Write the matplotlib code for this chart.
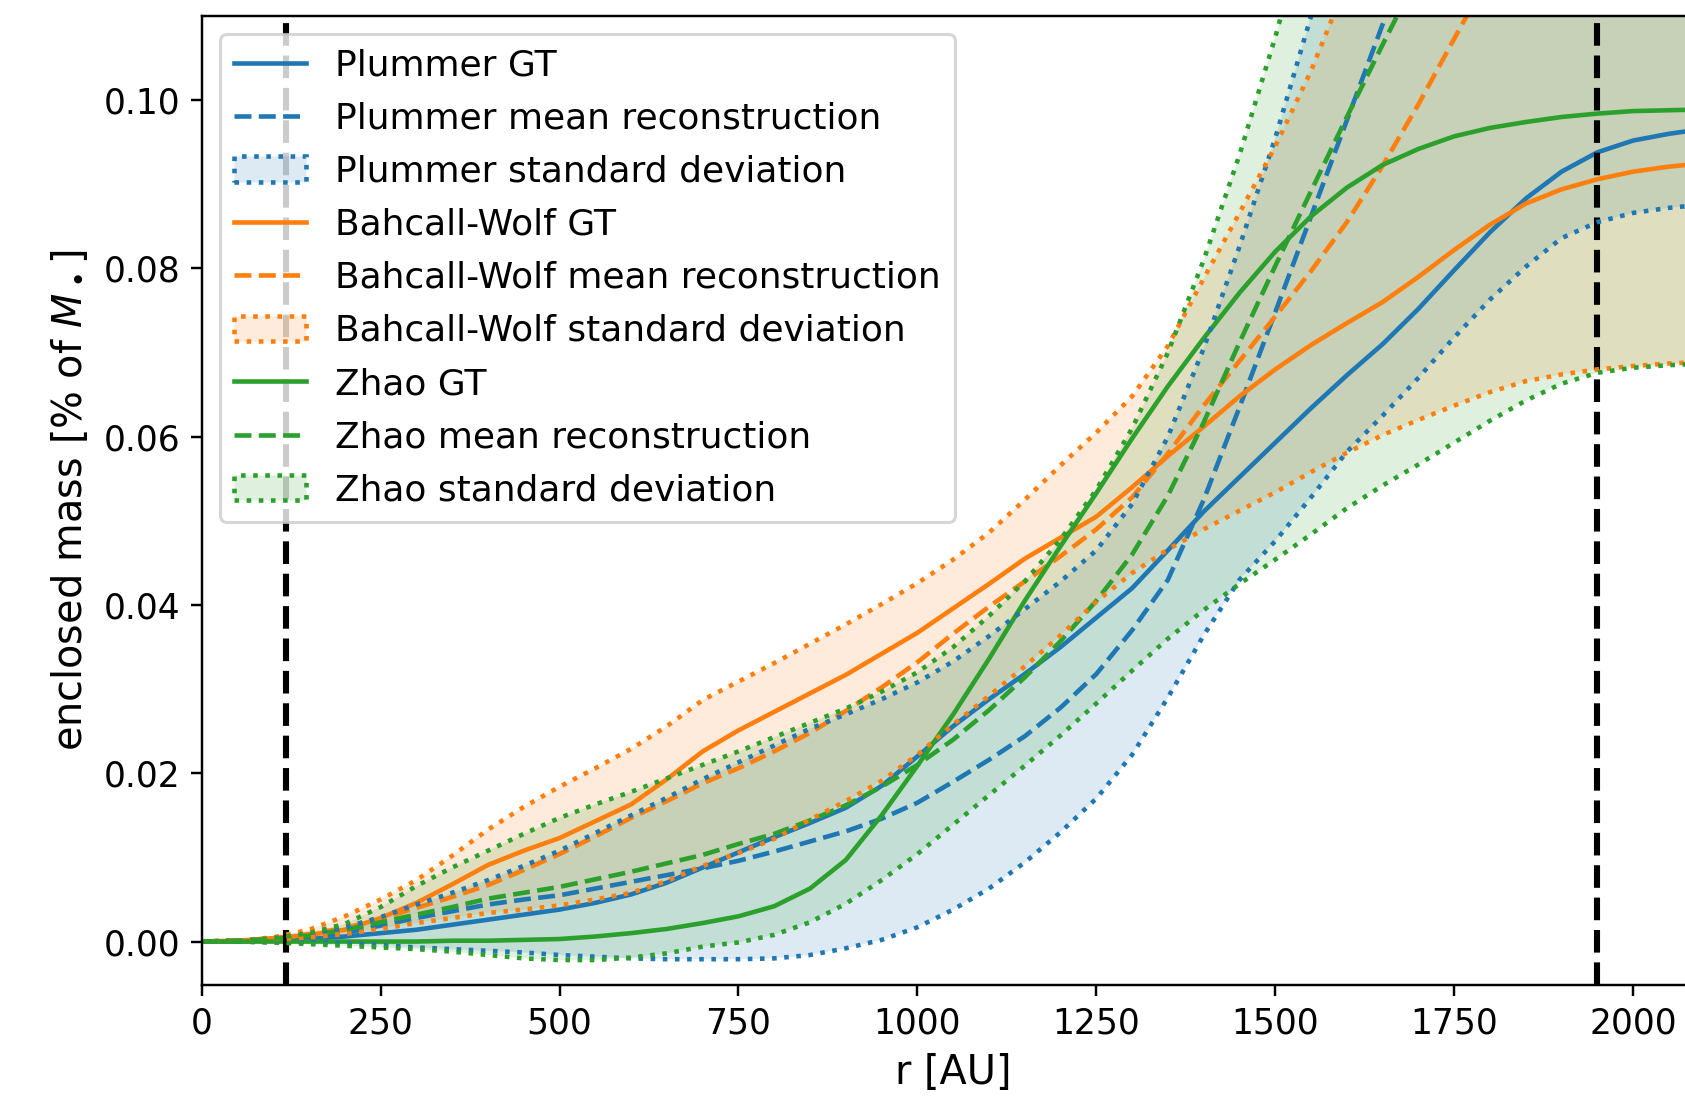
import numpy as np
import matplotlib.pyplot as plt
from matplotlib.colors import to_rgba
from matplotlib.patches import Patch

plt.rcParams['font.size'] = 12
plt.rcParams['xtick.labelsize'] = 11.3
plt.rcParams['ytick.labelsize'] = 11.3
plt.rcParams['axes.labelsize'] = 13

# radial grid [AU]
r = np.arange(0, 2101, 50)

# enclosed mass [% of M_bh] for each density profile
plummer_gt = [0, 0, 0.0001, 0.0003, 0.0006, 0.0010, 0.0014, 0.0020, 0.0026, 0.0032,
              0.0038, 0.0046, 0.0056, 0.0070, 0.0088, 0.0106, 0.0124, 0.0141, 0.0159, 0.0185,
              0.0220, 0.0256, 0.0288, 0.0318, 0.0350, 0.0385, 0.0420, 0.0465, 0.0511, 0.0552,
              0.0593, 0.0634, 0.0673, 0.0710, 0.0752, 0.0798, 0.0843, 0.0883, 0.0915, 0.0938,
              0.0952, 0.0960, 0.0966]
plummer_mean = [0, 0.0001, 0.0002, 0.0005, 0.0010, 0.0019, 0.0028, 0.0036, 0.0044, 0.0050,
                0.0055, 0.0063, 0.0071, 0.0079, 0.0087, 0.0096, 0.0107, 0.0119, 0.0131, 0.0146,
                0.0165, 0.0190, 0.0216, 0.0244, 0.0278, 0.0318, 0.0370, 0.0430, 0.0525, 0.0635,
                0.0748, 0.0862, 0.0976, 0.1090, 0.1200, 0.1310, 0.1420, 0.1520, 0.1620, 0.1710,
                0.1790, 0.1860, 0.1920]
plummer_lo = [0, 0, -0.0001, -0.0001, -0.0002, -0.0004, -0.0007, -0.0009, -0.0011, -0.0013,
              -0.0016, -0.0018, -0.0020, -0.0021, -0.0021, -0.0021, -0.0020, -0.0016, -0.0008, 0.0002,
              0.0017, 0.0038, 0.0063, 0.0094, 0.0130, 0.0170, 0.0222, 0.0290, 0.0364, 0.0430,
              0.0476, 0.0528, 0.0582, 0.0625, 0.0670, 0.0718, 0.0763, 0.0802, 0.0836, 0.0855,
              0.0866, 0.0872, 0.0876]
plummer_hi = [0, 0.0001, 0.0003, 0.0008, 0.0017, 0.0029, 0.0044, 0.0058, 0.0073, 0.0090,
              0.0108, 0.0129, 0.0150, 0.0171, 0.0193, 0.0213, 0.0233, 0.0253, 0.0270, 0.0288,
              0.0308, 0.0333, 0.0363, 0.0395, 0.0428, 0.0465, 0.0520, 0.0600, 0.0705, 0.0826,
              0.0955, 0.1100, 0.1250, 0.1390, 0.1510, 0.1620, 0.1720, 0.1810, 0.1890, 0.1960,
              0.2020, 0.2070, 0.2110]

bw_gt = [0, 0.0001, 0.0004, 0.0008, 0.0014, 0.0028, 0.0046, 0.0068, 0.0091, 0.0108,
         0.0123, 0.0143, 0.0163, 0.0193, 0.0226, 0.0251, 0.0273, 0.0295, 0.0317, 0.0342,
         0.0367, 0.0396, 0.0425, 0.0455, 0.0480, 0.0505, 0.0540, 0.0577, 0.0612, 0.0648,
         0.0680, 0.0709, 0.0735, 0.0760, 0.0790, 0.0822, 0.0852, 0.0877, 0.0894, 0.0906,
         0.0915, 0.0921, 0.0925]
bw_mean = [0, 0.0001, 0.0004, 0.0009, 0.0016, 0.0027, 0.0040, 0.0053, 0.0067, 0.0085,
           0.0104, 0.0125, 0.0147, 0.0167, 0.0188, 0.0206, 0.0226, 0.0248, 0.0274, 0.0302,
           0.0332, 0.0366, 0.0398, 0.0428, 0.0458, 0.0490, 0.0528, 0.0580, 0.0637, 0.0690,
           0.0743, 0.0797, 0.0855, 0.0922, 0.0995, 0.1073, 0.1150, 0.1230, 0.1310, 0.1390,
           0.1460, 0.1530, 0.1600]
bw_lo = [0, 0.0001, 0.0002, 0.0005, 0.0009, 0.0015, 0.0022, 0.0028, 0.0034, 0.0038,
         0.0043, 0.0050, 0.0058, 0.0072, 0.0090, 0.0105, 0.0122, 0.0145, 0.0167, 0.0191,
         0.0222, 0.0258, 0.0292, 0.0327, 0.0364, 0.0404, 0.0438, 0.0466, 0.0490, 0.0512,
         0.0534, 0.0558, 0.0581, 0.0602, 0.0620, 0.0637, 0.0653, 0.0666, 0.0674, 0.0680,
         0.0684, 0.0687, 0.0689]
bw_hi = [0, 0.0001, 0.0005, 0.0014, 0.0030, 0.0050, 0.0073, 0.0102, 0.0133, 0.0160,
         0.0184, 0.0206, 0.0229, 0.0256, 0.0287, 0.0309, 0.0331, 0.0354, 0.0377, 0.0401,
         0.0426, 0.0454, 0.0486, 0.0525, 0.0566, 0.0605, 0.0648, 0.0708, 0.0788, 0.0866,
         0.0945, 0.1035, 0.1140, 0.1260, 0.1380, 0.1500, 0.1610, 0.1710, 0.1810, 0.1900,
         0.1980, 0.2050, 0.2110]

zhao_gt = [0, 0, 0, 0, 0, 0, 0, 0.0001, 0.0001, 0.0002,
           0.0003, 0.0006, 0.0010, 0.0015, 0.0022, 0.0030, 0.0042, 0.0063, 0.0097, 0.0150,
           0.0209, 0.0270, 0.0336, 0.0405, 0.0470, 0.0533, 0.0598, 0.0660, 0.0717, 0.0771,
           0.0820, 0.0862, 0.0896, 0.0923, 0.0942, 0.0957, 0.0967, 0.0974, 0.0980, 0.0984,
           0.0987, 0.0988, 0.0989]
zhao_mean = [0, 0.0001, 0.0003, 0.0007, 0.0014, 0.0023, 0.0032, 0.0041, 0.0051, 0.0058,
             0.0065, 0.0074, 0.0083, 0.0093, 0.0103, 0.0116, 0.0128, 0.0144, 0.0162, 0.0184,
             0.0210, 0.0240, 0.0275, 0.0314, 0.0357, 0.0405, 0.0460, 0.0530, 0.0617, 0.0712,
             0.0803, 0.0892, 0.0980, 0.1066, 0.1150, 0.1240, 0.1320, 0.1400, 0.1480, 0.1550,
             0.1620, 0.1680, 0.1740]
zhao_lo = [0, 0, -0.0001, -0.0003, -0.0005, -0.0007, -0.0009, -0.0012, -0.0016, -0.0020,
           -0.0022, -0.0022, -0.0019, -0.0014, -0.0006, -0.0001, 0.0008, 0.0023, 0.0045, 0.0073,
           0.0104, 0.0139, 0.0174, 0.0209, 0.0245, 0.0283, 0.0322, 0.0360, 0.0394, 0.0425,
           0.0454, 0.0484, 0.0515, 0.0542, 0.0567, 0.0593, 0.0619, 0.0643, 0.0663, 0.0676,
           0.0682, 0.0685, 0.0687]
zhao_hi = [0, 0.0001, 0.0004, 0.0010, 0.0021, 0.0041, 0.0066, 0.0088, 0.0108, 0.0128,
           0.0147, 0.0163, 0.0178, 0.0194, 0.0210, 0.0226, 0.0243, 0.0260, 0.0277, 0.0297,
           0.0320, 0.0350, 0.0387, 0.0428, 0.0478, 0.0537, 0.0610, 0.0700, 0.0810, 0.0935,
           0.1075, 0.1230, 0.1380, 0.1520, 0.1650, 0.1770, 0.1880, 0.1980, 0.2070, 0.2150,
           0.2220, 0.2280, 0.2340]

# inner / outer radius of the fitted region
r_inner = 118
r_outer = 1950

models = [
    ('Plummer', plummer_gt, plummer_mean, plummer_lo, plummer_hi, 'C0'),
    ('Bahcall-Wolf', bw_gt, bw_mean, bw_lo, bw_hi, 'C1'),
    ('Zhao', zhao_gt, zhao_mean, zhao_lo, zhao_hi, 'C2'),
]

fig = plt.figure(figsize=(1685 / 220, 1096 / 220), dpi=220)
ax = fig.add_axes([0.1197, 0.101, 0.892, 0.8844])

handles = []
for name, gt, mean, lo, hi, c in models:
    l1, = ax.plot(r, gt, color=c, label=name + ' GT')
    l2, = ax.plot(r, mean, '--', color=c, label=name + ' mean reconstruction')
    ax.fill_between(r, lo, hi, facecolor=to_rgba(c, 0.15), edgecolor='none')
    ax.plot(r, lo, ':', color=c, lw=1.5, zorder=2.5)
    ax.plot(r, hi, ':', color=c, lw=1.5, zorder=2.5)
    band = Patch(facecolor=to_rgba(c, 0.15), edgecolor=c, linestyle=':', linewidth=1.5,
                 label=name + ' standard deviation')
    handles += [l1, l2, band]

ax.axvline(r_inner, color='k', linestyle='--', linewidth=2)
ax.axvline(r_outer, color='k', linestyle='--', linewidth=2)

ax.set_xlim(0, 2100)
ax.set_ylim(-0.0052, 0.110)
ax.set_xlabel('r [AU]')
ax.set_ylabel(r'enclosed mass [% of $M_\bullet$]')
ax.legend(handles=handles, loc='upper left', fontsize=11.8, labelspacing=0.53)

fig.savefig('out.png', dpi=220)
